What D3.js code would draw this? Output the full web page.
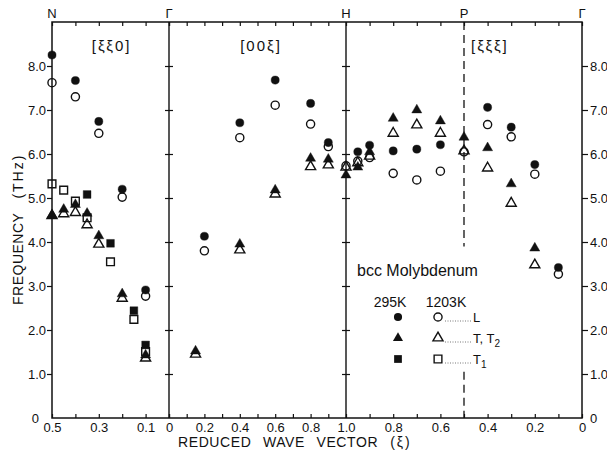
<!DOCTYPE html>
<html>
<head>
<meta charset="utf-8">
<script src="https://cdn.jsdelivr.net/npm/d3@7"></script>
<style>
body { margin: 0; background: #fff; }
svg { font-family: "Liberation Sans", Arial, sans-serif; fill: #111; }
.axis path { display: none; }
.axis line { stroke: #111; stroke-width: 1.2; }
.axis text { font-size: 13px; fill: #111; font-family: "Liberation Sans", Arial, sans-serif; }
</style>
</head>
<body>
<svg width="607" height="454"></svg>
<script>
// frequencies in THz, [xi, nu]; first number of each pair is the reduced wave vector

// [xi xi 0] branch, N -> Gamma
var sszL295 = [[0.5, 8.25], [0.4, 7.67], [0.3, 6.74], [0.2, 5.20], [0.1, 2.91]];
var sszL1203 = [[0.5, 7.62], [0.4, 7.30], [0.3, 6.47], [0.2, 5.02], [0.1, 2.77]];
var sszT2_295 = [[0.5, 4.61], [0.45, 4.74], [0.4, 4.85], [0.35, 4.65], [0.3, 4.14], [0.2, 2.82], [0.1, 1.43]];
var sszT2_1203 = [[0.5, 4.60], [0.45, 4.64], [0.4, 4.67], [0.35, 4.39], [0.3, 3.95], [0.2, 2.72], [0.1, 1.36]];
var sszT1_295 = [[0.35, 5.08], [0.25, 3.97], [0.15, 2.44], [0.1, 1.66]];
var sszT1_1203 = [[0.5, 5.32], [0.45, 5.18], [0.4, 4.93], [0.35, 4.55], [0.25, 3.55], [0.15, 2.24], [0.1, 1.51]];

// [0 0 xi] branch, Gamma -> H
var zzsL295 = [[0.2, 4.13], [0.4, 6.71], [0.6, 7.68], [0.8, 7.15], [0.9, 6.26]];
var zzsL1203 = [[0.2, 3.80], [0.4, 6.37], [0.6, 7.11], [0.8, 6.68], [0.9, 6.17], [1.0, 5.73]];
var zzsT295 = [[0.15, 1.52], [0.4, 3.95], [0.6, 5.18], [0.8, 5.90], [0.9, 5.88], [1.0, 5.52]];
var zzsT1203 = [[0.15, 1.45], [0.4, 3.82], [0.6, 5.09], [0.8, 5.71], [0.9, 5.75], [1.0, 5.70]];

// [xi xi xi] branch, H -> P -> Gamma
var sssL295 = [[0.95, 6.05], [0.9, 6.20], [0.8, 6.07], [0.7, 6.11], [0.6, 6.21], [0.4, 7.06], [0.3, 6.61], [0.2, 5.76], [0.1, 3.42]];
var sssL1203 = [[0.95, 5.84], [0.9, 5.92], [0.8, 5.56], [0.7, 5.41], [0.6, 5.61], [0.5, 6.05], [0.4, 6.67], [0.3, 6.39], [0.2, 5.54], [0.1, 3.27]];
var sssT295 = [[0.95, 5.70], [0.9, 6.05], [0.8, 6.81], [0.7, 7.00], [0.6, 6.75], [0.5, 6.38], [0.4, 6.14], [0.3, 5.32], [0.2, 3.86]];
var sssT1203 = [[0.95, 5.80], [0.9, 5.95], [0.8, 6.47], [0.7, 6.66], [0.6, 6.47], [0.5, 6.07], [0.4, 5.68], [0.3, 4.88], [0.2, 3.48]];

// tick values and labels
var freqTicks = [0, 1, 2, 3, 4, 5, 6, 7, 8];
var nTicks = [0.5, 0.4, 0.3, 0.2, 0.1, 0];
var nLabels = [0.5, 0.3, 0.1];
var hTicks = [0, 0.1, 0.2, 0.3, 0.4, 0.5, 0.6, 0.7, 0.8, 0.9, 1.0];
var hLabels = [0, 0.2, 0.4, 0.6, 0.8, 1.0];
var pTicks = [0.9, 0.8, 0.7, 0.6, 0.5, 0.4, 0.3, 0.2, 0.1, 0];
var pLabels = [0.8, 0.6, 0.4, 0.2, 0];
var points = ["N", "\u0393", "H", "P", "\u0393"];
var pointXi = [0.5, 0, 1.0, 0.5, 0];
var legendTemps = ["295K", "1203K"];
var legendModes = ["L", "T, T2", "T1"];

// set size and margins
var svg = d3.select("svg"),
    margin = {top: 22, right: 25, bottom: 36, left: 52},
    height = svg.attr("height") - margin.top - margin.bottom;

var ink = "#111";

// one scale per panel, frequency shared
var y = d3.scaleLinear().domain([0, 9]).range([margin.top + height, margin.top]);
var xN = d3.scaleLinear().domain([0.5, 0]).range([52, 169]);
var xH = d3.scaleLinear().domain([0, 1]).range([169, 346]);
var xP = d3.scaleLinear().domain([1, 0]).range([346, 582]);

var fmt = function(d) { return d === 0 ? "0" : d3.format(".1f")(d); };

// frame and panel dividers
svg.append("rect")
    .attr("x", xN(0.5)).attr("y", y(9))
    .attr("width", xP(0) - xN(0.5)).attr("height", y(0) - y(9))
    .attr("fill", "none").attr("stroke", ink).attr("stroke-width", 1.5);
[xH(0), xH(1)].forEach(function(x) {
    svg.append("line")
        .attr("x1", x).attr("x2", x).attr("y1", y(9)).attr("y2", y(0))
        .attr("stroke", ink).attr("stroke-width", 1.4);
});

// dashed line at P, broken behind the legend
[[9, 3.9], [1.05, 0]].forEach(function(r) {
    svg.append("line")
        .attr("x1", xP(0.5)).attr("x2", xP(0.5))
        .attr("y1", y(r[0])).attr("y2", y(r[1]))
        .attr("stroke", ink).attr("stroke-width", 1.3)
        .attr("stroke-dasharray", "8,5");
});

// frequency axes
var yl = svg.append("g").attr("class", "axis")
    .attr("transform", "translate(" + xN(0.5) + ",0)")
    .call(d3.axisLeft(y).tickValues(freqTicks).tickSize(5).tickPadding(1).tickFormat(fmt));
yl.selectAll(".tick").filter(function(d) { return d === 0; })
    .call(function(t) { t.select("line").remove(); t.select("text").attr("x", -13); });

var yr = svg.append("g").attr("class", "axis")
    .attr("transform", "translate(" + xP(0) + ",0)")
    .call(d3.axisRight(y).tickValues(freqTicks).tickSize(6).tickPadding(2).tickFormat(fmt));
yr.selectAll(".tick").filter(function(d) { return d === 0; }).select("line").remove();

// ticks crossing the Gamma and H dividers
[xH(0), xH(1)].forEach(function(x) {
    svg.append("g").attr("class", "axis").attr("transform", "translate(" + x + ",0)")
        .call(d3.axisLeft(y).tickValues(freqTicks.slice(1)).tickSize(4).tickFormat(""));
    svg.append("g").attr("class", "axis").attr("transform", "translate(" + x + ",0)")
        .call(d3.axisRight(y).tickValues(freqTicks.slice(1)).tickSize(4).tickFormat(""));
});

// wave vector axes, bottom with labels, top ticks only
function xiAxis(xs, ticks, labels) {
    svg.append("g").attr("class", "axis")
        .attr("transform", "translate(0," + y(0) + ")")
        .call(d3.axisBottom(xs).tickValues(ticks).tickSize(-4).tickPadding(5)
            .tickFormat(function(d) { return labels.indexOf(d) >= 0 ? fmt(d) : ""; }));
    svg.append("g").attr("class", "axis")
        .attr("transform", "translate(0," + y(9) + ")")
        .call(d3.axisTop(xs).tickValues(ticks).tickSize(-4).tickFormat(""));
}
xiAxis(xN, nTicks, nLabels);
xiAxis(xH, hTicks, hLabels);
xiAxis(xP, pTicks, pLabels);

// symmetry points on top
var pointScales = [xN, xH, xH, xP, xP];
points.forEach(function(p, i) {
    svg.append("text")
        .attr("x", pointScales[i](pointXi[i])).attr("y", 18)
        .attr("text-anchor", "middle")
        .style("font-size", "13px")
        .text(p);
});

// panel titles
var titles = [["[\u03be\u03be0]", xN(0.245)], ["[00\u03be]", xH(0.52)], ["[\u03be\u03be\u03be]", xP(0.39)]];
titles.forEach(function(t) {
    svg.append("text")
        .attr("x", t[1]).attr("y", 51)
        .attr("text-anchor", "middle")
        .style("font-size", "15px").style("letter-spacing", "2px")
        .text(t[0]);
});

// axis titles
svg.append("text")
    .attr("transform", "translate(23,305) rotate(-90)")
    .style("font-size", "14px").style("letter-spacing", "0.5px")
    .call(function(t) {
        t.append("tspan").text("FREQUENCY");
        t.append("tspan").attr("dx", 14).style("letter-spacing", "2px").text("(THz)");
    });

svg.append("text")
    .attr("x", 178).attr("y", 447)
    .style("font-size", "14px").style("letter-spacing", "0.6px").style("word-spacing", "7px")
    .call(function(t) {
        t.append("tspan").text("REDUCED WAVE VECTOR");
        t.append("tspan").attr("dx", 12).style("letter-spacing", "2px").text("(\u03be)");
    });

// marker shapes
var shapes = {
    circle: d3.symbol(d3.symbolCircle, 52),
    triangle: d3.symbol(d3.symbolTriangle, 44),
    square: d3.symbol(d3.symbolSquare, 60)
};

function plot(xs, data, shape, filled) {
    svg.append("g").selectAll("path")
        .data(data)
        .enter().append("path")
        .attr("transform", function(d) { return "translate(" + xs(d[0]) + "," + y(d[1]) + ")"; })
        .attr("d", shapes[shape])
        .attr("fill", filled ? ink : "none")
        .attr("stroke", ink)
        .attr("stroke-width", filled ? 0.4 : 1.4);
}

// open (1203 K) first, filled (295 K) on top
plot(xN, sszL1203, "circle", false);
plot(xN, sszT2_1203, "triangle", false);
plot(xN, sszT1_1203, "square", false);
plot(xH, zzsL1203, "circle", false);
plot(xH, zzsT1203, "triangle", false);
plot(xP, sssL1203, "circle", false);
plot(xP, sssT1203, "triangle", false);

plot(xN, sszL295, "circle", true);
plot(xN, sszT2_295, "triangle", true);
plot(xN, sszT1_295, "square", true);
plot(xH, zzsL295, "circle", true);
plot(xH, zzsT295, "triangle", true);
plot(xP, sssL295, "circle", true);
plot(xP, sssT295, "triangle", true);

// legend
svg.append("text")
    .attr("x", 357).attr("y", 276)
    .style("font-size", "16px")
    .text("bcc Molybdenum");

[390, 446].forEach(function(x, i) {
    svg.append("text")
        .attr("x", x).attr("y", 307)
        .attr("text-anchor", "middle")
        .style("font-size", "14px")
        .text(legendTemps[i]);
});

var legendShapes = ["circle", "triangle", "square"];
var rowY = [317, 338, 359];
legendModes.forEach(function(m, i) {
    var row = svg.append("g").attr("transform", "translate(0," + rowY[i] + ")");
    row.append("path").attr("transform", "translate(398,0)")
        .attr("d", shapes[legendShapes[i]]).attr("fill", ink);
    row.append("path").attr("transform", "translate(438,0)")
        .attr("d", shapes[legendShapes[i]]).attr("fill", "none")
        .attr("stroke", ink).attr("stroke-width", 1.4);
    row.append("line")
        .attr("x1", 445).attr("x2", 471).attr("y1", 4).attr("y2", 4)
        .attr("stroke", "#555").attr("stroke-width", 0.8)
        .attr("stroke-dasharray", "1,1.5");
    var label = row.append("text")
        .attr("x", 473).attr("y", 5)
        .style("font-size", "13px");
    if (m === "T, T2") {
        label.append("tspan").text("T, T");
        label.append("tspan").attr("dy", 4).style("font-size", "10px").text("2");
    } else if (m === "T1") {
        label.append("tspan").text("T");
        label.append("tspan").attr("dy", 4).style("font-size", "10px").text("1");
    } else {
        label.text(m);
    }
});
</script>
</body>
</html>
